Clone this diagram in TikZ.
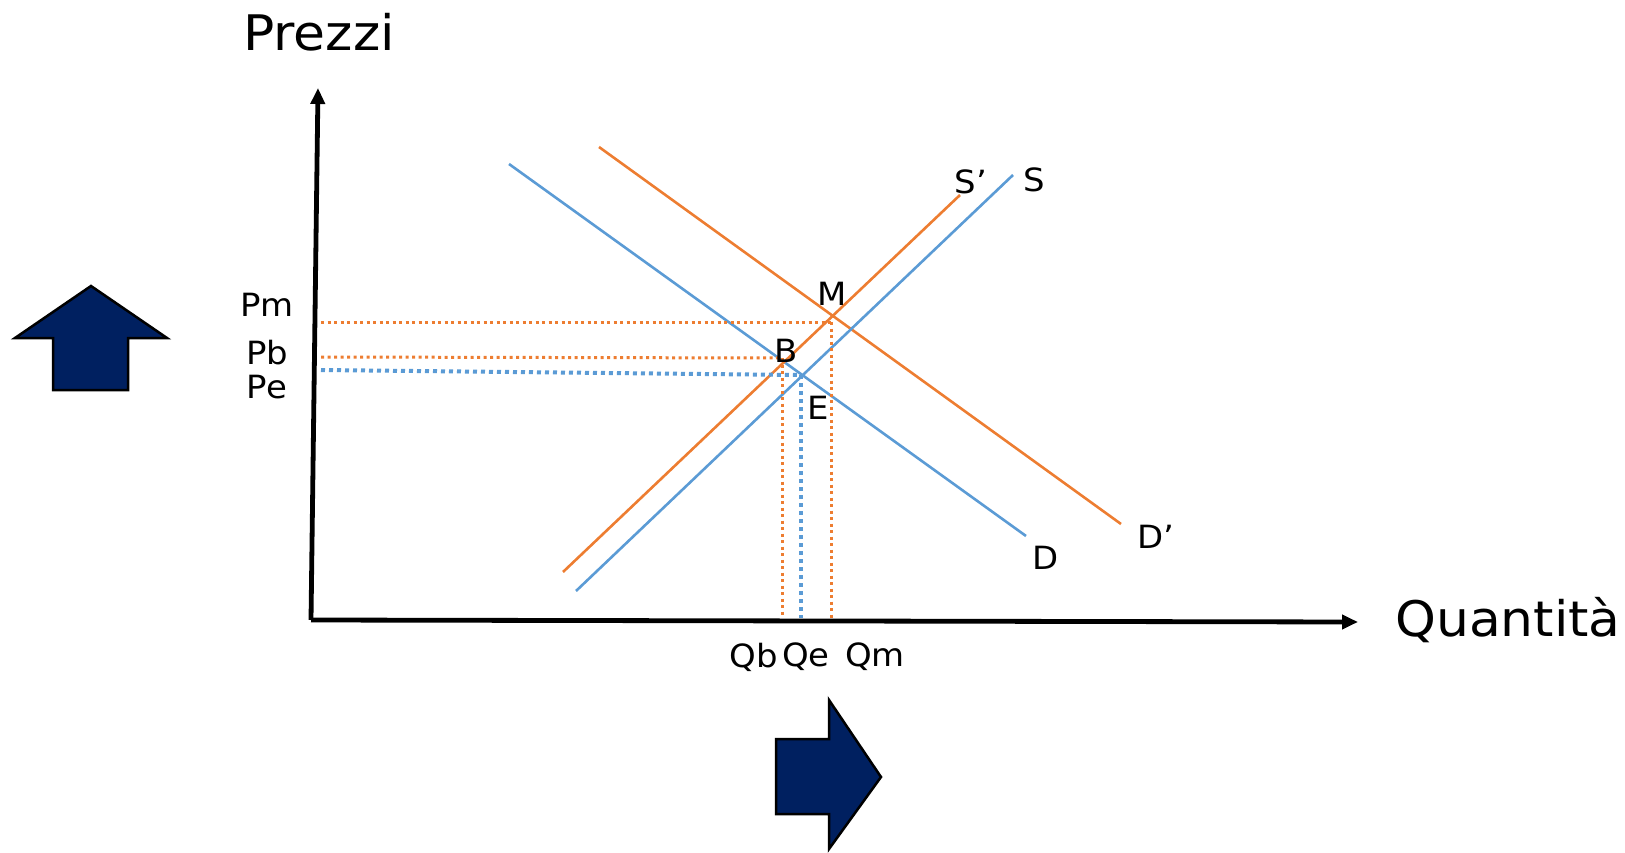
\documentclass[tikz,border=0pt]{standalone}
\usepackage{fontspec}
\setmainfont{DejaVu Sans}
\newfontfamily\widefont[FakeStretch=1.06]{DejaVu Sans}
\usetikzlibrary{arrows.meta}
\definecolor{orng}{RGB}{237,125,49}
\definecolor{blu}{RGB}{91,155,213}
\definecolor{navy}{RGB}{0,32,96}
\begin{document}
\begin{tikzpicture}[x=1pt,y=-1pt,
  axis/.style={line width=4.8pt,-{Triangle[length=16pt,width=14pt]}},
  curveo/.style={orng,line width=2.6pt},
  curveb/.style={blu,line width=2.6pt},
  dotso/.style={orng,line width=3pt,dash pattern=on 3pt off 3.5pt},
  dotsb/.style={blu,line width=4pt,dash pattern=on 4pt off 4pt},
  lbl/.style={font=\widefont\fontsize{32}{38}\selectfont,inner sep=0pt},
  big/.style={font=\widefont\fontsize{49}{58}\selectfont,inner sep=0pt},
  bigarrow/.style={fill=navy,draw=black,line width=2.5pt,line join=miter}]
\useasboundingbox (0,0) rectangle (1625,853);
% axes
\coordinate (O) at (311,620);
\coordinate (Ytop) at (318,88);
\coordinate (Xend) at (1358,622);
\draw[axis] (O) -- (Ytop);
\draw[axis] (O) -- (Xend);
% curves
\coordinate (D1) at (509,164); \coordinate (D2) at (1026,536);
\coordinate (Dp1) at (599,147); \coordinate (Dp2) at (1121,524);
\coordinate (Sp1) at (563,572); \coordinate (Sp2) at (960,195);
\coordinate (S1) at (576,591); \coordinate (S2) at (1013,175);
\draw[curveb] (D1) -- (D2);
\draw[curveo] (Dp1) -- (Dp2);
\draw[curveo] (Sp1) -- (Sp2);
\draw[curveb] (S1) -- (S2);
% dotted guides
\coordinate (M) at (831,322);
\coordinate (B) at (782,358);
\coordinate (E) at (801,375);
\coordinate (PmL) at (321,322);
\coordinate (PbL) at (321,357);
\coordinate (PeL) at (321,370);
\coordinate (QmB) at (831,618);
\coordinate (QbB) at (782,618);
\coordinate (QeB) at (801,618);
\draw[dotso] (PmL) -- (M);
\draw[dotso] (M) -- (QmB);
\draw[dotso] (PbL) -- (B);
\draw[dotso] (B) -- (QbB);
\draw[dotsb] (PeL) -- (E);
\draw[dotsb] (E) -- (QeB);
% labels
\node[big] (prezzi) at (319,32) {Prezzi};
\node[big] (quant) at (1508,620) {Quantità};
\node[lbl] (lM) at (832,294) {M};
\node[lbl] (lB) at (786,351) {B};
\node[lbl] (lE) at (818,408) {E};
\node[lbl] (lSp) at (971,182) {S’};
\node[lbl] (lS) at (1034,180) {S};
\node[lbl] (lDp) at (1156,537) {D’};
\node[lbl] (lD) at (1046,558) {D};
\node[lbl] (lPm) at (267,305) {Pm};
\node[lbl] (lPb) at (267,353) {Pb};
\node[lbl] (lPe) at (267,387) {Pe};
\node[lbl] (lQb) at (754,657) {Qb};
\node[lbl] (lQe) at (806,657) {Qe};
\node[lbl] (lQm) at (875,657) {Qm};
% block arrows
\draw[bigarrow] (91,286) -- (167,338) -- (128,338) -- (128,390) -- (53,390) -- (53,338) -- (15,338) -- cycle;
\draw[bigarrow] (881,777) -- (829,849) -- (829,814) -- (776,814) -- (776,739) -- (829,739) -- (829,700) -- cycle;
\end{tikzpicture}
\end{document}
